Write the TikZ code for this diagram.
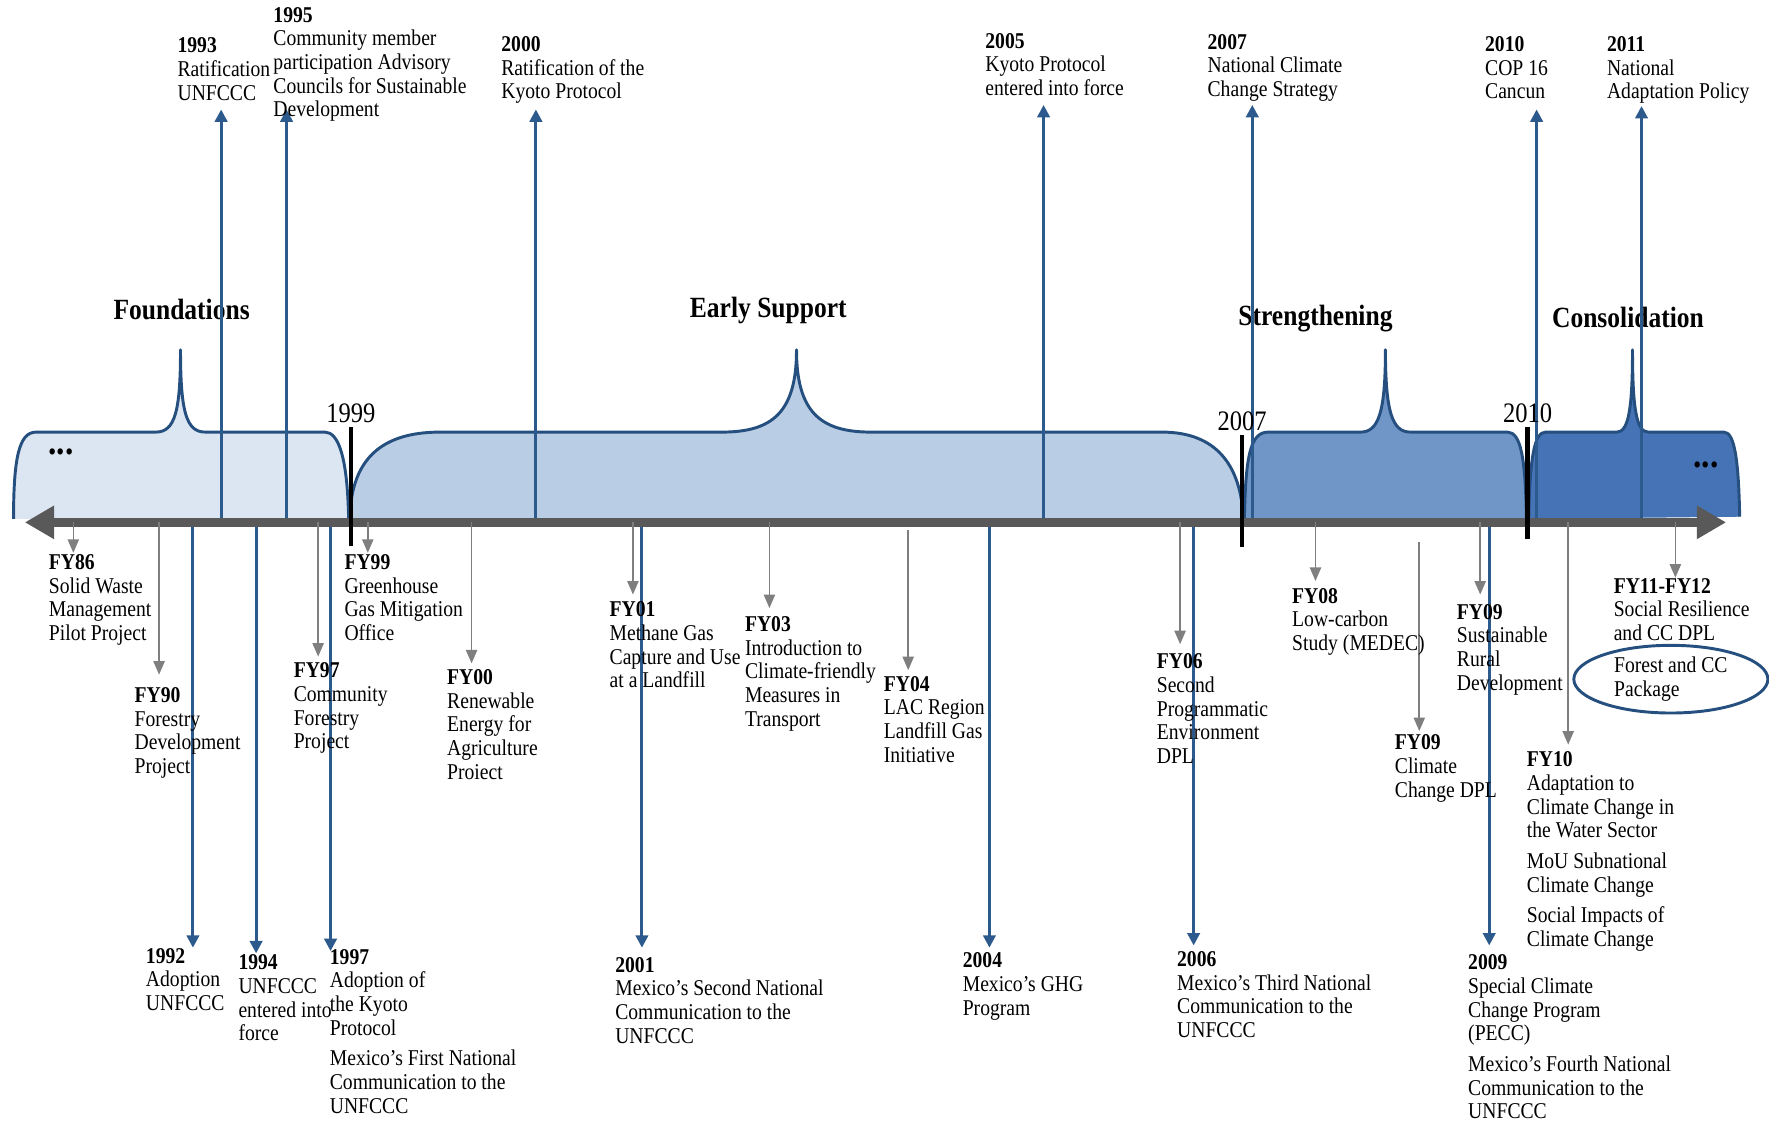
\documentclass[tikz,border=0pt]{standalone}
\usepackage{fontspec}
\setmainfont{Liberation Serif}[FakeStretch=0.87]
\usetikzlibrary{arrows.meta,shapes.geometric}
\definecolor{PhaseA}{HTML}{DCE6F2}
\definecolor{PhaseB}{HTML}{B9CDE5}
\definecolor{PhaseC}{HTML}{7096C8}
\definecolor{PhaseD}{HTML}{4573B6}
\definecolor{PhaseLine}{HTML}{254F7E}
\definecolor{EventBlue}{HTML}{2C5A8C}
\definecolor{AxisGray}{HTML}{595959}
\definecolor{ProjGray}{HTML}{7F7F7F}

\begin{document}
\begin{tikzpicture}[
  x=0.5pt,y=-0.5pt,
  phase/.style={draw=PhaseLine,line width=1.3pt,line join=round},
  axis/.style={AxisGray,line width=4pt,{Triangle[width=14pt,length=13pt]}-{Triangle[width=14pt,length=13pt]}},
  tick/.style={black,line width=2pt},
  evline/.style={EventBlue,line width=1.3pt,-{Triangle[width=5.5pt,length=5.5pt]}},
  fyline/.style={ProjGray,line width=0.7pt,-{Triangle[width=5pt,length=6pt]}},
  txt/.style={anchor=north west,align=left,inner sep=0pt,font=\fontsize{10}{10.5}\selectfont},
  phasename/.style={font=\fontsize{13}{15}\selectfont\bfseries,inner sep=0pt},
  dots/.style={font=\fontsize{17}{17}\selectfont\bfseries,inner sep=0pt},
  yearmark/.style={font=\fontsize{12.5}{14}\selectfont,inner sep=0pt},
  ring/.style={draw=PhaseLine,line width=1.3pt,ellipse,inner sep=0pt,minimum width=86pt,minimum height=30pt,align=left,font=\fontsize{10}{10.5}\selectfont}
]
  \useasboundingbox (0,0) rectangle (1568,995);
  % phases
  \draw[phase,fill=PhaseA] (12,460) .. controls (12,405) and (17,383) .. (32,383) -- (138,383)
    .. controls (155,383) and (160,365) .. (160,310) .. controls (160,365) and (165,383) .. (182,383)
    -- (288,383) .. controls (300,383) and (308,405) .. (309,460);
  \draw[phase,fill=PhaseB] (310,460) .. controls (311,410) and (335,383) .. (390,383) -- (640,383)
    .. controls (685,383) and (706,365) .. (706,310) .. controls (706,365) and (727,383) .. (772,383)
    -- (1030,383) .. controls (1076,383) and (1100,410) .. (1102,460);
  \draw[phase,fill=PhaseC] (1103,460) .. controls (1104,405) and (1108,383) .. (1124,383) -- (1206,383)
    .. controls (1222,383) and (1228,365) .. (1228,310) .. controls (1228,365) and (1234,383) .. (1250,383)
    -- (1336,383) .. controls (1348,383) and (1352,405) .. (1353,460);
  \draw[phase,fill=PhaseD] (1355,460) .. controls (1356,405) and (1360,383) .. (1370,383) -- (1433,383)
    .. controls (1443,383) and (1447,365) .. (1447,310) .. controls (1447,365) and (1451,383) .. (1461,383)
    -- (1528,383) .. controls (1537,383) and (1541,405) .. (1542,458);
  \node[phasename] (pfound) at (161,274) {Foundations};
  \node[phasename] (pearly) at (681,275) {Early Support};
  \node[phasename] (pstrong) at (1166,282) {Strengthening};
  \node[phasename] (pcons) at (1443,281) {Consolidation};
  \node[dots] (dotsl) at (54,401) {...};
  \node[dots] (dotsr) at (1512,412) {...};

  % events (blue)
  \coordinate (axl) at (22,463);
  \coordinate (axr) at (1530,463);
  \foreach \n/\xx/\yy in {1993/196/97,1995/254/97,2000/475/97,2005/925/93,2007/1110/93,2010/1362/97,2011/1455/94,
    1992/171/840,1994/227/845,1997/293/843,2001/569/840,2004/877/840,2006/1058/838,2009/1320/838}
    {\coordinate (ev\n) at (\xx,\yy);
     \draw[evline] (ev\n |- axl) -- (ev\n);}
  \draw[axis] (axl) -- (axr);

  % projects (grey)
  \foreach \n/\xx/\ya/\yb in {86/65/463/490,90/141/463/598,97/282/463/582,99/326/463/490,00/418/463/588,
    01/561/463/527,03/682/463/539,04/805/470/594,06/1046/463/571,08/1166/463/515,
    09a/1258/480/648,09b/1312/463/527,10/1390/463/660,11/1485/463/512}
    {\coordinate (fa\n) at (\xx,\ya);
     \coordinate (fb\n) at (\xx,\yb);
     \draw[fyline] (fa\n) -- (fb\n);}

  % period marks
  \node[yearmark] (t1999) at (311,366) {1999};
  \node[yearmark] (t2007) at (1101,373) {2007};
  \node[yearmark] (t2010) at (1354,366) {2010};
  \coordinate (k1999) at (311,484);
  \coordinate (k2007) at (1101,485);
  \coordinate (k2010) at (1354,478);
  \draw[tick] ([yshift=-2pt]t1999.south) -- (k1999);
  \draw[tick] ([yshift=-2pt]t2007.south) -- (k2007);
  \draw[tick] ([yshift=-2pt]t2010.south) -- (k2010);

  % event texts above
  \node[txt] (e1993) at (157,33) {\textbf{1993}\\Ratification\\UNFCCC};
  \node[txt] (e1995) at (242,6) {\textbf{1995}\\Community member\\participation  Advisory\\Councils for Sustainable\\Development};
  \node[txt] (e2000) at (444,32) {\textbf{2000}\\Ratification of the\\Kyoto Protocol};
  \node[txt] (e2005) at (873,29) {\textbf{2005}\\Kyoto Protocol\\entered into force};
  \node[txt] (e2007) at (1070,30) {\textbf{2007}\\National Climate\\Change Strategy};
  \node[txt] (e2010) at (1316,32) {\textbf{2010}\\COP 16\\Cancun};
  \node[txt] (e2011) at (1424,32) {\textbf{2011}\\National\\Adaptation Policy};

  % event texts below
  \node[txt] (e1992) at (129,840) {\textbf{1992}\\Adoption\\UNFCCC};
  \node[txt] (e1994) at (211,846) {\textbf{1994}\\UNFCCC\\entered into\\force};
  \node[txt] (e1997) at (292,841) {\textbf{1997}\\Adoption of\\the Kyoto\\Protocol\\[3pt]Mexico’s First National\\Communication to the\\UNFCCC};
  \node[txt] (e2001) at (545,848) {\textbf{2001}\\Mexico’s Second National\\Communication to the\\UNFCCC};
  \node[txt] (e2004) at (853,844) {\textbf{2004}\\Mexico’s GHG\\Program};
  \node[txt] (e2006) at (1043,843) {\textbf{2006}\\Mexico’s Third National\\Communication to the\\UNFCCC};
  \node[txt] (e2009) at (1301,846) {\textbf{2009}\\Special Climate\\Change Program\\(PECC)\\[3pt]Mexico’s Fourth National\\Communication to the\\UNFCCC};

  % project texts
  \node[txt] (fy86) at (43,491) {\textbf{FY86}\\Solid Waste\\Management\\Pilot Project};
  \node[txt] (fy90) at (119,609) {\textbf{FY90}\\Forestry\\Development\\Project};
  \node[txt] (fy97) at (260,587) {\textbf{FY97}\\Community\\Forestry\\Project};
  \node[txt] (fy99) at (305,491) {\textbf{FY99}\\Greenhouse\\Gas Mitigation\\Office};
  \node[txt] (fy00) at (396,593) {\textbf{FY00}\\Renewable\\Energy for\\Agriculture\\Proiect};
  \node[txt] (fy01) at (540,533) {\textbf{FY01}\\Methane Gas\\Capture and Use\\at a Landfill};
  \node[txt] (fy03) at (660,546) {\textbf{FY03}\\Introduction to\\Climate-friendly\\Measures in\\Transport};
  \node[txt] (fy04) at (783,599) {\textbf{FY04}\\LAC Region\\Landfill Gas\\Initiative};
  \node[txt] (fy06) at (1025,579) {\textbf{FY06}\\Second\\Programmatic\\Environment\\DPL};
  \node[txt] (fy08) at (1145,521) {\textbf{FY08}\\Low-carbon\\Study (MEDEC)};
  \node[txt] (fy09a) at (1236,651) {\textbf{FY09}\\Climate\\Change DPL};
  \node[txt] (fy09b) at (1291,535) {\textbf{FY09}\\Sustainable\\Rural\\Development};
  \node[txt] (fy10) at (1353,666) {\textbf{FY10}\\Adaptation to\\Climate Change in\\the Water Sector\\[3pt]MoU Subnational\\Climate Change\\[3pt]Social Impacts of\\Climate Change};
  \node[txt] (fy11) at (1430,512) {\textbf{FY11-FY12}\\Social Resilience\\and CC DPL};
  \node[ring] (pkg) at (1481,602) {Forest and CC\\Package};
\end{tikzpicture}
\end{document}
